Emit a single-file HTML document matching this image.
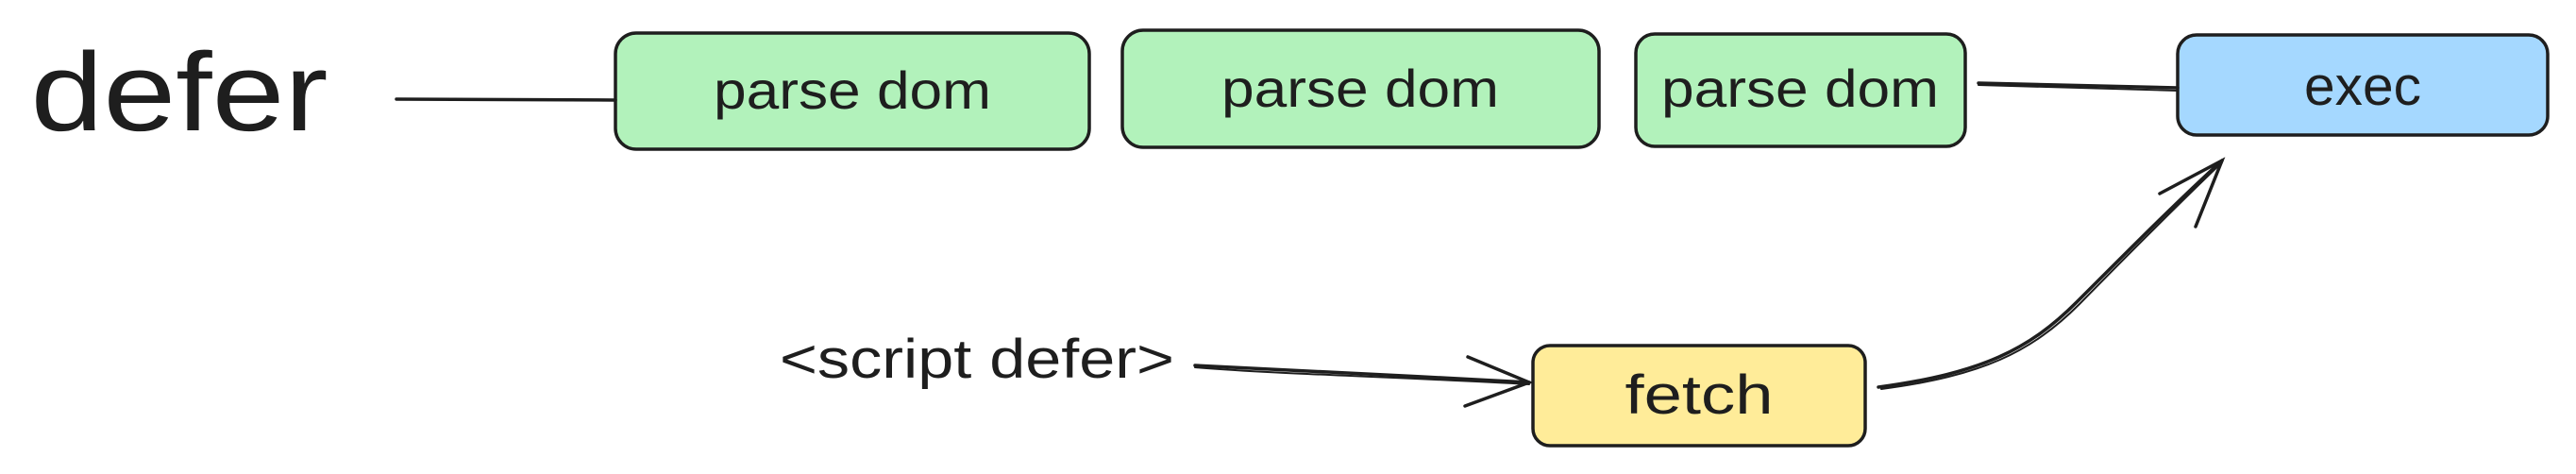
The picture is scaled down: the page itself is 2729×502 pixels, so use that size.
<!DOCTYPE html>
<html><head><meta charset="utf-8"><style>html,body{margin:0;padding:0;background:#fff}svg{display:block}</style></head>
<body>
<svg width="2729" height="502" viewBox="0 0 2729 502" xmlns="http://www.w3.org/2000/svg">
<g stroke="#1e1e1e" stroke-width="3.5" fill="none" stroke-linecap="round">
<rect x="652" y="35" width="502" height="123" rx="22" fill="#b2f2bb"/>
<rect x="1189" y="32" width="505" height="124" rx="22" fill="#b2f2bb"/>
<rect x="1733" y="36" width="349" height="119" rx="20" fill="#b2f2bb"/>
<rect x="2307" y="37" width="392" height="106" rx="20" fill="#a5d8ff"/>
<rect x="1624" y="366" width="352" height="106" rx="18" fill="#ffec99"/>
<path d="M420 105 L652 106"/>
<path d="M2096 88 L2307 93"/>
<path d="M2096 90 L2307 96" stroke-width="2"/>
<path d="M1266 387 C1350 392 1500 398 1620 405"/>
<path d="M1266 389 C1350 396 1500 400 1620 407" stroke-width="2"/>
<path d="M1555 378 L1620 405 L1552 430"/>
<path d="M1990 410 C2100 395 2150 370 2200 320 C2260 260 2310 210 2354 170"/>
<path d="M1993 412 C2100 398 2152 373 2203 322 C2262 262 2312 212 2354 172" stroke-width="2"/>
<path d="M2288 205 L2354 170 L2326 240"/>
</g>
<g font-family="'Liberation Sans', sans-serif" fill="#1e1e1e" text-anchor="middle">
<text x="190" y="138" font-size="118" textLength="315" lengthAdjust="spacingAndGlyphs">defer</text>
<text x="903" y="115" font-size="56" textLength="294" lengthAdjust="spacingAndGlyphs">parse dom</text>
<text x="1441" y="113" font-size="56" textLength="294" lengthAdjust="spacingAndGlyphs">parse dom</text>
<text x="1907" y="113" font-size="56" textLength="294" lengthAdjust="spacingAndGlyphs">parse dom</text>
<text x="2503" y="111" font-size="58" textLength="124" lengthAdjust="spacingAndGlyphs">exec</text>
<text x="1800" y="438" font-size="58" textLength="157" lengthAdjust="spacingAndGlyphs">fetch</text>
<text x="1035" y="400" font-size="58" textLength="418" lengthAdjust="spacingAndGlyphs">&lt;script defer&gt;</text>
</g>
</svg>
</body></html>
